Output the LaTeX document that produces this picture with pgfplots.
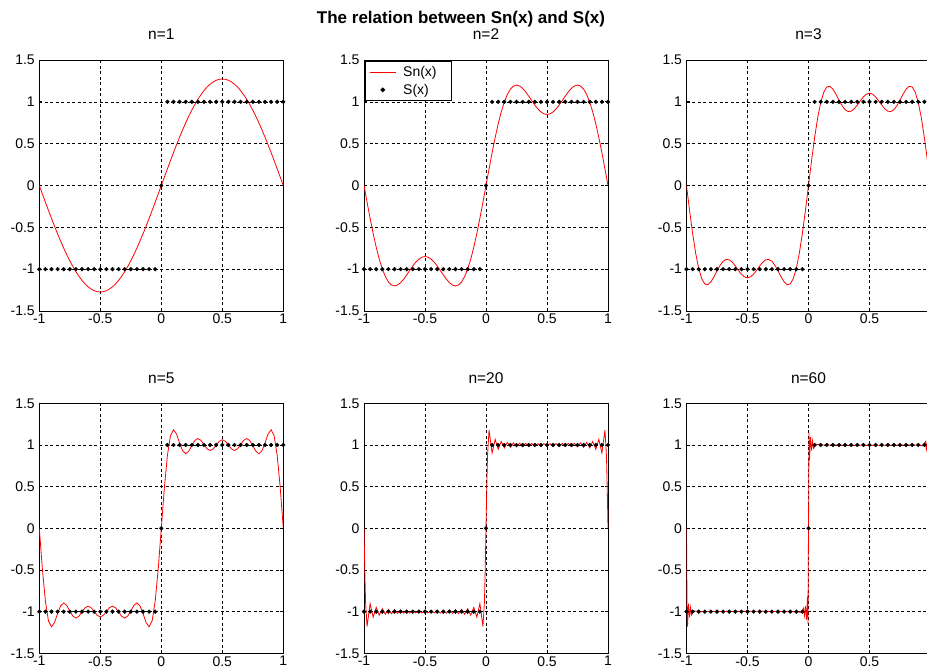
\documentclass[border=0pt]{standalone}
\usepackage{fontspec}
\setmainfont{Liberation Sans}
\usepackage{pgfplots}
\usepackage{pgfplotstable}
\pgfplotsset{compat=1.18}

% S(x), sampled every 0.05
\pgfplotstableread[row sep=\\]{
x y\\
-1 -1\\ -0.95 -1\\ -0.9 -1\\ -0.85 -1\\ -0.8 -1\\ -0.75 -1\\ -0.7 -1\\ -0.65 -1\\ -0.6 -1\\ -0.55 -1\\
-0.5 -1\\ -0.45 -1\\ -0.4 -1\\ -0.35 -1\\ -0.3 -1\\ -0.25 -1\\ -0.2 -1\\ -0.15 -1\\ -0.1 -1\\ -0.05 -1\\
0 0\\
0.05 1\\ 0.1 1\\ 0.15 1\\ 0.2 1\\ 0.25 1\\ 0.3 1\\ 0.35 1\\ 0.4 1\\ 0.45 1\\ 0.5 1\\
0.55 1\\ 0.6 1\\ 0.65 1\\ 0.7 1\\ 0.75 1\\ 0.8 1\\ 0.85 1\\ 0.9 1\\ 0.95 1\\ 1 1\\
}\sdata

% n=1
\pgfplotstableread[row sep=\\]{
x y\\
-1 0\\ -0.975 -0.0999\\ -0.95 -0.1992\\ -0.925 -0.2972\\ -0.9 -0.3935\\ -0.875 -0.4872\\ -0.85 -0.5780\\ -0.825 -0.6653\\ -0.8 -0.7484\\ -0.775 -0.8269\\
-0.75 -0.9003\\ -0.725 -0.9682\\ -0.7 -1.0301\\ -0.675 -1.0856\\ -0.65 -1.1345\\ -0.625 -1.1763\\ -0.6 -1.2109\\ -0.575 -1.2381\\ -0.55 -1.2576\\ -0.525 -1.2693\\
-0.5 -1.2732\\ -0.475 -1.2693\\ -0.45 -1.2576\\ -0.425 -1.2381\\ -0.4 -1.2109\\ -0.375 -1.1763\\ -0.35 -1.1345\\ -0.325 -1.0856\\ -0.3 -1.0301\\ -0.275 -0.9682\\
-0.25 -0.9003\\ -0.225 -0.8269\\ -0.2 -0.7484\\ -0.175 -0.6653\\ -0.15 -0.5780\\ -0.125 -0.4872\\ -0.1 -0.3935\\ -0.075 -0.2972\\ -0.05 -0.1992\\ -0.025 -0.0999\\
0 0\\ 0.025 0.0999\\ 0.05 0.1992\\ 0.075 0.2972\\ 0.1 0.3935\\ 0.125 0.4872\\ 0.15 0.5780\\ 0.175 0.6653\\ 0.2 0.7484\\ 0.225 0.8269\\
0.25 0.9003\\ 0.275 0.9682\\ 0.3 1.0301\\ 0.325 1.0856\\ 0.35 1.1345\\ 0.375 1.1763\\ 0.4 1.2109\\ 0.425 1.2381\\ 0.45 1.2576\\ 0.475 1.2693\\
0.5 1.2732\\ 0.525 1.2693\\ 0.55 1.2576\\ 0.575 1.2381\\ 0.6 1.2109\\ 0.625 1.1763\\ 0.65 1.1345\\ 0.675 1.0856\\ 0.7 1.0301\\ 0.725 0.9682\\
0.75 0.9003\\ 0.775 0.8269\\ 0.8 0.7484\\ 0.825 0.6653\\ 0.85 0.5780\\ 0.875 0.4872\\ 0.9 0.3935\\ 0.925 0.2972\\ 0.95 0.1992\\ 0.975 0.0999\\
1 0\\
}\snone

% n=2
\pgfplotstableread[row sep=\\]{
x y\\
-1 0\\ -0.975 -0.1990\\ -0.95 -0.3919\\ -0.925 -0.5729\\ -0.9 -0.7368\\ -0.875 -0.8794\\ -0.85 -0.9972\\ -0.825 -1.0884\\ -0.8 -1.1520\\ -0.775 -1.1888\\
-0.75 -1.2004\\ -0.725 -1.1900\\ -0.7 -1.1612\\ -0.675 -1.1189\\ -0.65 -1.0681\\ -0.625 -1.0139\\ -0.6 -0.9615\\ -0.575 -0.9153\\ -0.55 -0.8794\\ -0.525 -0.8566\\
-0.5 -0.8488\\ -0.475 -0.8566\\ -0.45 -0.8794\\ -0.425 -0.9153\\ -0.4 -0.9615\\ -0.375 -1.0139\\ -0.35 -1.0681\\ -0.325 -1.1189\\ -0.3 -1.1612\\ -0.275 -1.1900\\
-0.25 -1.2004\\ -0.225 -1.1888\\ -0.2 -1.1520\\ -0.175 -1.0884\\ -0.15 -0.9972\\ -0.125 -0.8794\\ -0.1 -0.7368\\ -0.075 -0.5729\\ -0.05 -0.3919\\ -0.025 -0.1990\\
0 0\\ 0.025 0.1990\\ 0.05 0.3919\\ 0.075 0.5729\\ 0.1 0.7368\\ 0.125 0.8794\\ 0.15 0.9972\\ 0.175 1.0884\\ 0.2 1.1520\\ 0.225 1.1888\\
0.25 1.2004\\ 0.275 1.1900\\ 0.3 1.1612\\ 0.325 1.1189\\ 0.35 1.0681\\ 0.375 1.0139\\ 0.4 0.9615\\ 0.425 0.9153\\ 0.45 0.8794\\ 0.475 0.8566\\
0.5 0.8488\\ 0.525 0.8566\\ 0.55 0.8794\\ 0.575 0.9153\\ 0.6 0.9615\\ 0.625 1.0139\\ 0.65 1.0681\\ 0.675 1.1189\\ 0.7 1.1612\\ 0.725 1.1900\\
0.75 1.2004\\ 0.775 1.1888\\ 0.8 1.1520\\ 0.825 1.0884\\ 0.85 0.9972\\ 0.875 0.8794\\ 0.9 0.7368\\ 0.925 0.5729\\ 0.95 0.3919\\ 0.975 0.1990\\
1 0\\
}\sntwo

% n=3
\pgfplotstableread[row sep=\\]{
x y\\
-1 0\\ -0.975 -0.2964\\ -0.95 -0.5719\\ -0.925 -0.8081\\ -0.9 -0.9915\\ -0.875 -1.1146\\ -0.85 -1.1773\\ -0.825 -1.1858\\ -0.8 -1.1520\\ -0.775 -1.0913\\
-0.75 -1.0204\\ -0.725 -0.9547\\ -0.7 -0.9066\\ -0.675 -0.8836\\ -0.65 -0.8880\\ -0.625 -0.9165\\ -0.6 -0.9615\\ -0.575 -1.0128\\ -0.55 -1.0595\\ -0.525 -1.0919\\
-0.5 -1.1035\\ -0.475 -1.0919\\ -0.45 -1.0595\\ -0.425 -1.0128\\ -0.4 -0.9615\\ -0.375 -0.9165\\ -0.35 -0.8880\\ -0.325 -0.8836\\ -0.3 -0.9066\\ -0.275 -0.9547\\
-0.25 -1.0204\\ -0.225 -1.0913\\ -0.2 -1.1520\\ -0.175 -1.1858\\ -0.15 -1.1773\\ -0.125 -1.1146\\ -0.1 -0.9915\\ -0.075 -0.8081\\ -0.05 -0.5719\\ -0.025 -0.2964\\
0 0\\ 0.025 0.2964\\ 0.05 0.5719\\ 0.075 0.8081\\ 0.1 0.9915\\ 0.125 1.1146\\ 0.15 1.1773\\ 0.175 1.1858\\ 0.2 1.1520\\ 0.225 1.0913\\
0.25 1.0204\\ 0.275 0.9547\\ 0.3 0.9066\\ 0.325 0.8836\\ 0.35 0.8880\\ 0.375 0.9165\\ 0.4 0.9615\\ 0.425 1.0128\\ 0.45 1.0595\\ 0.475 1.0919\\
0.5 1.1035\\ 0.525 1.0919\\ 0.55 1.0595\\ 0.575 1.0128\\ 0.6 0.9615\\ 0.625 0.9165\\ 0.65 0.8880\\ 0.675 0.8836\\ 0.7 0.9066\\ 0.725 0.9547\\
0.75 1.0204\\ 0.775 1.0913\\ 0.8 1.1520\\ 0.825 1.1858\\ 0.85 1.1773\\ 0.875 1.1146\\ 0.9 0.9915\\ 0.925 0.8081\\ 0.95 0.5719\\ 0.975 0.2964\\
1 0\\
}\snthree

% n=5
\pgfplotstableread[row sep=\\]{
x y\\
-1 0\\ -0.975 -0.4834\\ -0.95 -0.8737\\ -0.925 -1.1101\\ -0.9 -1.1823\\ -0.875 -1.1301\\ -0.85 -1.0228\\ -0.825 -0.9301\\ -0.8 -0.8959\\ -0.775 -0.9256\\
-0.75 -0.9918\\ -0.725 -1.0533\\ -0.7 -1.0772\\ -0.675 -1.0550\\ -0.65 -1.0035\\ -0.625 -0.9538\\ -0.6 -0.9338\\ -0.575 -0.9531\\ -0.55 -0.9990\\ -0.525 -1.0444\\
-0.5 -1.0631\\ -0.475 -1.0444\\ -0.45 -0.9990\\ -0.425 -0.9531\\ -0.4 -0.9338\\ -0.375 -0.9538\\ -0.35 -1.0035\\ -0.325 -1.0550\\ -0.3 -1.0772\\ -0.275 -1.0533\\
-0.25 -0.9918\\ -0.225 -0.9256\\ -0.2 -0.8959\\ -0.175 -0.9301\\ -0.15 -1.0228\\ -0.125 -1.1301\\ -0.1 -1.1823\\ -0.075 -1.1101\\ -0.05 -0.8737\\ -0.025 -0.4834\\
0 0\\ 0.025 0.4834\\ 0.05 0.8737\\ 0.075 1.1101\\ 0.1 1.1823\\ 0.125 1.1301\\ 0.15 1.0228\\ 0.175 0.9301\\ 0.2 0.8959\\ 0.225 0.9256\\
0.25 0.9918\\ 0.275 1.0533\\ 0.3 1.0772\\ 0.325 1.0550\\ 0.35 1.0035\\ 0.375 0.9538\\ 0.4 0.9338\\ 0.425 0.9531\\ 0.45 0.9990\\ 0.475 1.0444\\
0.5 1.0631\\ 0.525 1.0444\\ 0.55 0.9990\\ 0.575 0.9531\\ 0.6 0.9338\\ 0.625 0.9538\\ 0.65 1.0035\\ 0.675 1.0550\\ 0.7 1.0772\\ 0.725 1.0533\\
0.75 0.9918\\ 0.775 0.9256\\ 0.8 0.8959\\ 0.825 0.9301\\ 0.85 1.0228\\ 0.875 1.1301\\ 0.9 1.1823\\ 0.925 1.1101\\ 0.95 0.8737\\ 0.975 0.4834\\
1 0\\
}\snfive

% n=20 (extrema every 0.025)
\pgfplotstableread[row sep=\\]{
x y\\
-1 0\\ -0.99375 -0.483\\ -0.9875 -0.873\\ -0.975 -1.179\\ -0.95 -0.903\\ -0.925 -1.067\\ -0.9 -0.949\\ -0.875 -1.042\\ -0.85 -0.965\\ -0.825 -1.031\\
-0.8 -0.973\\ -0.775 -1.025\\ -0.75 -0.978\\ -0.725 -1.021\\ -0.7 -0.980\\ -0.675 -1.019\\ -0.65 -0.982\\ -0.625 -1.017\\ -0.6 -0.983\\ -0.575 -1.016\\
-0.55 -0.984\\ -0.525 -1.016\\ -0.5 -0.984\\ -0.475 -1.016\\ -0.45 -0.984\\ -0.425 -1.016\\ -0.4 -0.983\\ -0.375 -1.017\\ -0.35 -0.982\\ -0.325 -1.019\\
-0.3 -0.980\\ -0.275 -1.021\\ -0.25 -0.978\\ -0.225 -1.025\\ -0.2 -0.973\\ -0.175 -1.031\\ -0.15 -0.965\\ -0.125 -1.042\\ -0.1 -0.949\\ -0.075 -1.067\\
-0.05 -0.903\\ -0.025 -1.179\\ -0.0125 -0.873\\ -0.00625 -0.483\\
0 0\\
0.00625 0.483\\ 0.0125 0.873\\ 0.025 1.179\\ 0.05 0.903\\ 0.075 1.067\\ 0.1 0.949\\ 0.125 1.042\\ 0.15 0.965\\ 0.175 1.031\\ 0.2 0.973\\
0.225 1.025\\ 0.25 0.978\\ 0.275 1.021\\ 0.3 0.980\\ 0.325 1.019\\ 0.35 0.982\\ 0.375 1.017\\ 0.4 0.983\\ 0.425 1.016\\ 0.45 0.984\\
0.475 1.016\\ 0.5 0.984\\ 0.525 1.016\\ 0.55 0.984\\ 0.575 1.016\\ 0.6 0.983\\ 0.625 1.017\\ 0.65 0.982\\ 0.675 1.019\\ 0.7 0.980\\
0.725 1.021\\ 0.75 0.978\\ 0.775 1.025\\ 0.8 0.973\\ 0.825 1.031\\ 0.85 0.965\\ 0.875 1.042\\ 0.9 0.949\\ 0.925 1.067\\ 0.95 0.903\\
0.975 1.179\\ 0.9875 0.873\\ 0.99375 0.483\\ 1 0\\
}\sntwenty

% n=60 (overshoot at the jumps, flat in between)
\pgfplotstableread[row sep=\\]{
x y\\
-1 0\\ -0.99792 -0.483\\ -0.99583 -0.873\\ -0.99167 -1.179\\ -0.98333 -0.903\\ -0.975 -1.067\\ -0.96667 -0.950\\ -0.95833 -1.040\\ -0.94 -0.99\\ -0.9 -1.0\\
-0.5 -0.995\\ -0.1 -1.0\\ -0.05833 -1.01\\ -0.04167 -0.96\\ -0.03333 -1.050\\ -0.025 -0.933\\ -0.01667 -1.097\\ -0.00833 -0.821\\ -0.00417 -1.15\\ -0.00208 -0.483\\
0 0\\
0.00208 0.483\\ 0.00417 1.15\\ 0.00833 0.821\\ 0.01667 1.097\\ 0.025 0.933\\ 0.03333 1.050\\ 0.04167 0.96\\ 0.05833 1.01\\ 0.1 1.0\\ 0.5 0.995\\
0.9 1.0\\ 0.94 0.99\\ 0.95833 1.040\\ 0.96667 0.950\\ 0.975 1.067\\ 0.98333 0.903\\ 0.99167 1.179\\ 0.99583 0.873\\ 0.99792 0.483\\ 1 0\\
}\snsixty

\pgfplotsset{
    sub/.style={
        scale only axis,
        width=244pt, height=250pt,
        xmin=-1, xmax=1, ymin=-1.5, ymax=1.5,
        xtick={-1,-0.5,0,0.5,1},
        xticklabels={-1,-0.5,0,0.5,1},
        ytick={-1.5,-1,-0.5,0,0.5,1,1.5},
        yticklabels={-1.5,-1,-0.5,0,0.5,1,1.5},
        grid=major,
        major grid style={black, line width=0.6pt, dash pattern=on 3pt off 2.5pt},
        axis line style={black, line width=0.8pt},
        tick align=inside,
        major tick length=3pt,
        tick style={black, line width=0.8pt},
        ticklabel style={font=\fontsize{14}{14}\selectfont, text=black},
        xticklabel style={yshift=0.5pt},
        yticklabel style={xshift=-1pt},
        title style={at={(0.5,1)}, anchor=base, yshift=14pt, font=\fontsize{15.5}{16}\selectfont},
        anchor=north west,
    },
    sn/.style={red, line width=0.8pt, mark=none,
        legend image code/.code={\draw[##1] (0pt,0pt) -- (26pt,0pt);}},
    sx/.style={only marks, mark=*, mark size=1.9pt, black,
        legend image code/.code={\draw[mark repeat=2, mark phase=2, ##1] plot coordinates {(0pt,0pt) (13pt,0pt) (26pt,0pt)};}},
}

\begin{document}
\begin{tikzpicture}
    % top row
    \begin{axis}[sub, at={(39.3pt,-60pt)}, height=251pt, title={n=1}]
        \addplot[sn] table {\snone};
        \addplot[sx] table {\sdata};
    \end{axis}
    \begin{axis}[sub, at={(364pt,-60pt)}, height=251pt, title={n=2},
            legend style={at={(0,1)}, anchor=north west, xshift=0.5pt, yshift=-1pt,
                    draw=black, line width=0.8pt, fill=white,
                    font=\fontsize{14}{14}\selectfont,
                    inner xsep=4.5pt, inner ysep=2pt,
                    nodes={inner sep=3pt},
                    /tikz/every odd column/.append style={column sep=4pt},
                    cells={anchor=west}}]
        \addplot[sn] table {\sntwo};
        \addlegendentry{\makebox[41pt][l]{Sn(x)}}
        \addplot[sx] table {\sdata};
        \addlegendentry{\makebox[41pt][l]{S(x)}}
    \end{axis}
    \begin{axis}[sub, at={(686.5pt,-60pt)}, height=251pt, title={n=3},
            xticklabels={-1,-0.5,0,0.5,{}}]
        \addplot[sn] table {\snthree};
        \addplot[sx] table {\sdata};
    \end{axis}
    % bottom row
    \begin{axis}[sub, at={(39.3pt,-403.3pt)}, title={n=5}]
        \addplot[sn] table {\snfive};
        \addplot[sx] table {\sdata};
    \end{axis}
    \begin{axis}[sub, at={(364pt,-403.3pt)}, title={n=20}]
        \addplot[sn] table {\sntwenty};
        \addplot[sx] table {\sdata};
    \end{axis}
    \begin{axis}[sub, at={(686.5pt,-403.3pt)}, title={n=60},
            xticklabels={-1,-0.5,0,0.5,{}}]
        \addplot[sn] table {\snsixty};
        \addplot[sx] table {\sdata};
    \end{axis}
    \node[anchor=base, font=\fontsize{17}{19}\selectfont\bfseries] at (461pt,-23.3pt) {The relation between Sn(x) and S(x)};
    % the figure is cut at its right edge, as in the original
    \pgfresetboundingbox
    \useasboundingbox (0pt,0pt) rectangle (927pt,-671pt);
\end{tikzpicture}
\end{document}
